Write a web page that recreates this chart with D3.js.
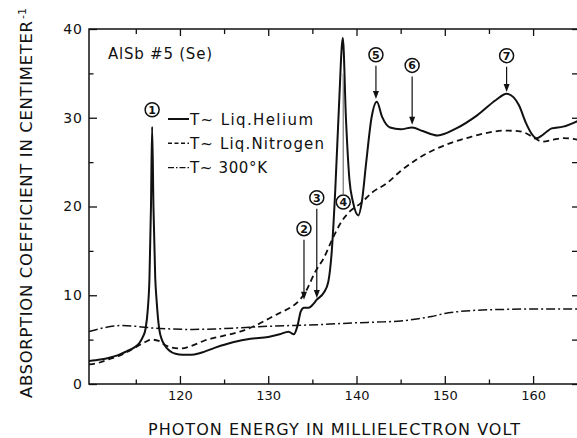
<!DOCTYPE html>
<html>
<head>
<meta charset="utf-8">
<script src="https://cdn.jsdelivr.net/npm/d3@7"></script>
<style>
  html, body { margin: 0; padding: 0; background: #fff; }
  svg { display: block; }
  text { font-family: "DejaVu Sans", "Liberation Sans", sans-serif; fill: #111; }
</style>
</head>
<body>
<svg id="chart" width="577" height="438"></svg>
<script>
// Absorption spectrum of AlSb #5 (Se): photon energy (meV) vs absorption coefficient (cm^-1)

// T ~ liquid helium
const heliumEnergy = [109.7, 111, 112, 113, 114, 114.8, 115.4, 115.8, 116.1, 116.35, 116.55, 116.72, 116.85,
  117.0, 117.2, 117.35, 117.65, 117.95, 118.25, 118.75, 119.5, 120.3, 121.3, 122.3, 124, 126, 128, 130,
  131.3, 132.3, 132.9, 133.3, 133.7, 134.05, 134.6, 135.1, 135.5, 136.3, 136.8, 137.2, 137.6, 138.0,
  138.45, 138.8, 139.2, 139.6, 140.2, 140.6, 141.1, 141.7, 142.3, 142.9, 143.8, 145.0, 146.3, 147.5,
  149.2, 151.3, 153.7, 155.8, 157.0, 157.8, 158.4, 159.2, 159.9, 160.4, 161.0, 161.5, 162.1, 163.4, 165.2];
const heliumAbsorption = [2.6, 2.75, 2.95, 3.25, 3.7, 4.1, 4.6, 5.3, 6.2, 8.3, 12, 20, 29.0,
  20, 12, 9.5, 6.2, 5.0, 4.4, 3.8, 3.4, 3.3, 3.3, 3.5, 4.1, 4.7, 5.1, 5.3,
  5.6, 5.9, 5.6, 6.5, 8.2, 8.6, 8.6, 9.0, 9.5, 10.3, 11.5, 15, 22, 31,
  39, 30, 23, 20.5, 19.0, 20.5, 25, 30, 31.8, 30.1, 28.9, 28.7, 28.9, 28.5,
  28.0, 28.8, 30.3, 32.0, 32.7, 32.3, 31.4, 29.4, 28.1, 27.7, 28.0, 28.4, 28.8, 29.0, 29.7];

// T ~ liquid nitrogen
const nitrogenEnergy = [109.7, 111, 112, 113, 114, 115, 116, 116.8, 117.6, 118.3, 119.1, 120.1, 121.3,
  122.8, 124.8, 126.8, 128.8, 130.3, 131.5, 132.5, 133.5, 134.3, 135.3, 136.3, 137.3, 138.3, 139.3,
  140.4, 141.8, 143.4, 145, 146.8, 148.8, 150.8, 152.8, 154.8, 156.8, 158.3, 159.3, 160.0, 161.1,
  162.2, 163.4, 165.2];
const nitrogenAbsorption = [2.2, 2.45, 2.8, 3.15, 3.6, 4.15, 4.7, 5.0, 4.85, 4.4, 4.1, 4.0, 4.3,
  4.9, 5.4, 5.9, 6.7, 7.5, 8.1, 8.6, 9.4, 10.5, 12.6, 14.2, 16.4, 18.3, 19.5,
  20.3, 21.6, 22.6, 24.0, 25.3, 26.4, 27.2, 27.8, 28.3, 28.55, 28.5, 28.2, 27.8, 27.3,
  27.5, 27.7, 27.5];

// T ~ 300 K
const roomEnergy = [109.7, 111, 112.3, 113.5, 115, 117, 119, 121, 124, 127, 130, 133, 136, 140, 143,
  145, 147, 148.5, 150, 151.5, 153.5, 156.5, 160, 165.2];
const roomAbsorption = [5.9, 6.25, 6.5, 6.6, 6.5, 6.3, 6.2, 6.15, 6.2, 6.35, 6.5, 6.6, 6.7, 6.9, 7.0,
  7.1, 7.35, 7.6, 7.95, 8.15, 8.3, 8.4, 8.45, 8.45];

// Numbered features: energy, level of the circled number, arrow tip level (null = no arrow)
const featureLabels = ["1", "2", "3", "4", "5", "6", "7"];
const featureEnergy = [116.85, 134.05, 135.5, 138.5, 142.2, 146.3, 157.0];
const featureLabelLevel = [30.9, 17.5, 21.0, 20.5, 37.1, 35.9, 37.0];
const featureTipLevel = [null, 9.5, 9.7, 35.0, 32.1, 29.2, 32.9];

const xMajorTicks = [120, 130, 140, 150, 160];
const xMinorTicks = [115, 125, 135, 145, 155];
const yMajorTicks = [0, 10, 20, 30, 40];
const yMinorTicks = [5, 15, 25, 35];

const seriesNames = ["T~ Liq.Helium", "T~ Liq.Nitrogen", "T~ 300°K"];

const svg = d3.select("#chart");
const plotLeft = 89, plotRight = 579, plotTop = 29, plotBottom = 384;

const x = d3.scaleLinear().domain([109.7, 165.2]).range([plotLeft, plotRight]);
const y = d3.scaleLinear().domain([0, 40]).range([plotBottom, plotTop]);

svg.append("defs").append("clipPath").attr("id", "plotClip")
  .append("rect").attr("x", plotLeft).attr("y", plotTop - 2)
  .attr("width", plotRight - plotLeft).attr("height", plotBottom - plotTop + 2);

// Axes with inward ticks
function styleAxis(g) {
  g.select(".domain").remove();
  g.selectAll(".tick line").attr("stroke", "#111").attr("stroke-width", 1.3);
  g.selectAll(".tick text").attr("fill", "#111");
}

svg.append("g").attr("transform", `translate(0,${plotBottom})`)
  .call(d3.axisBottom(x).tickValues(xMajorTicks).tickSize(-8).tickPadding(7).tickFormat(d3.format("d")))
  .call(styleAxis)
  .selectAll("text").attr("font-size", 13).attr("font-family", "DejaVu Sans");
svg.append("g").attr("transform", `translate(0,${plotBottom})`)
  .call(d3.axisBottom(x).tickValues(xMinorTicks).tickSize(-4.5).tickFormat(""))
  .call(styleAxis);
svg.append("g").attr("transform", `translate(0,${plotTop})`)
  .call(d3.axisTop(x).tickValues(xMajorTicks).tickSize(-7).tickFormat(""))
  .call(styleAxis);
svg.append("g").attr("transform", `translate(0,${plotTop})`)
  .call(d3.axisTop(x).tickValues(xMinorTicks).tickSize(-5).tickFormat(""))
  .call(styleAxis);

svg.append("g").attr("transform", `translate(${plotLeft},0)`)
  .call(d3.axisLeft(y).tickValues(yMajorTicks).tickSize(-8).tickPadding(6).tickFormat(d3.format("d")))
  .call(styleAxis)
  .selectAll("text").attr("font-size", 14).attr("letter-spacing", 1).attr("font-family", "DejaVu Sans");
svg.append("g").attr("transform", `translate(${plotLeft},0)`)
  .call(d3.axisLeft(y).tickValues(yMinorTicks).tickSize(-4.5).tickFormat(""))
  .call(styleAxis);
svg.append("g").attr("transform", `translate(${plotRight},0)`)
  .call(d3.axisRight(y).tickValues(yMajorTicks.concat(yMinorTicks)).tickSize(-7).tickFormat(""))
  .call(styleAxis);

// Frame
svg.append("rect")
  .attr("x", plotLeft).attr("y", plotTop).attr("width", plotRight - plotLeft).attr("height", plotBottom - plotTop)
  .attr("fill", "none").attr("stroke", "#111").attr("stroke-width", 1.5);

// Curves
const line = d3.line().x(d => x(d[0])).y(d => y(d[1])).curve(d3.curveMonotoneX);
const curves = [
  { e: roomEnergy, a: roomAbsorption, dash: "9,3,2,3", w: 1.5 },
  { e: nitrogenEnergy, a: nitrogenAbsorption, dash: "6,4", w: 1.8 },
  { e: heliumEnergy, a: heliumAbsorption, dash: null, w: 2 }
];
const plot = svg.append("g").attr("clip-path", "url(#plotClip)");
curves.forEach(c => {
  plot.append("path")
    .datum(d3.zip(c.e, c.a))
    .attr("d", line)
    .attr("fill", "none")
    .attr("stroke", "#111")
    .attr("stroke-width", c.w)
    .attr("stroke-linejoin", "round")
    .attr("stroke-dasharray", c.dash);
});

// Sample title
svg.append("text").attr("x", 108).attr("y", 59)
  .attr("font-size", 15).attr("textLength", 104).attr("lengthAdjust", "spacing")
  .text("AlSb #5 (Se)");

// Legend
const legendRows = [
  { name: seriesNames[0], dash: null, w: 2, len: 123 },
  { name: seriesNames[1], dash: "4,2.5", w: 1.6, len: 134 },
  { name: seriesNames[2], dash: "6,2,1.5,2", w: 1.4, len: 77 }
];
legendRows.forEach((r, i) => {
  const cy = 119 + i * 24.3;
  svg.append("line").attr("x1", 168).attr("x2", 189).attr("y1", cy).attr("y2", cy)
    .attr("stroke", "#111").attr("stroke-width", r.w).attr("stroke-dasharray", r.dash);
  svg.append("text").attr("x", 190).attr("y", cy + 5.5)
    .attr("font-size", 15).attr("textLength", r.len).attr("lengthAdjust", "spacing")
    .text(r.name);
});

// Numbered feature markers
featureLabels.forEach((lab, i) => {
  const fx = x(featureEnergy[i]);
  const cy = y(featureLabelLevel[i]);
  const g = svg.append("g");
  g.append("circle").attr("cx", fx).attr("cy", cy).attr("r", 7)
    .attr("fill", "#fff").attr("stroke", "#111").attr("stroke-width", 1.5);
  g.append("text").attr("x", fx).attr("y", cy + 4)
    .attr("text-anchor", "middle").attr("font-size", 11).attr("font-weight", "bold")
    .text(lab);
  const tip = featureTipLevel[i];
  if (tip === null) return;
  if (lab === "4") {
    g.append("line").attr("x1", fx).attr("x2", fx)
      .attr("y1", cy - 8).attr("y2", y(tip))
      .attr("stroke", "#888").attr("stroke-width", 1.4);
    return;
  }
  const ty = y(tip);
  g.append("line").attr("x1", fx).attr("x2", fx)
    .attr("y1", cy + 11).attr("y2", ty - 3)
    .attr("stroke", "#111").attr("stroke-width", 1.2);
  g.append("path")
    .attr("d", `M${fx - 3},${ty - 8} L${fx + 3},${ty - 8} L${fx},${ty} Z`)
    .attr("fill", "#111");
});

// Axis titles
svg.append("text").attr("x", 148).attr("y", 435)
  .attr("font-size", 16).attr("textLength", 372).attr("lengthAdjust", "spacing")
  .text("PHOTON ENERGY IN MILLIELECTRON VOLT");

svg.append("text").attr("transform", "translate(32,398) rotate(-90)")
  .attr("font-size", 16.5).attr("textLength", 377).attr("lengthAdjust", "spacing")
  .text("ABSORPTION COEFFICIENT IN CENTIMETER");
svg.append("text").attr("transform", "translate(26,19) rotate(-90)")
  .attr("font-size", 11).text("-1");
</script>
</body>
</html>
